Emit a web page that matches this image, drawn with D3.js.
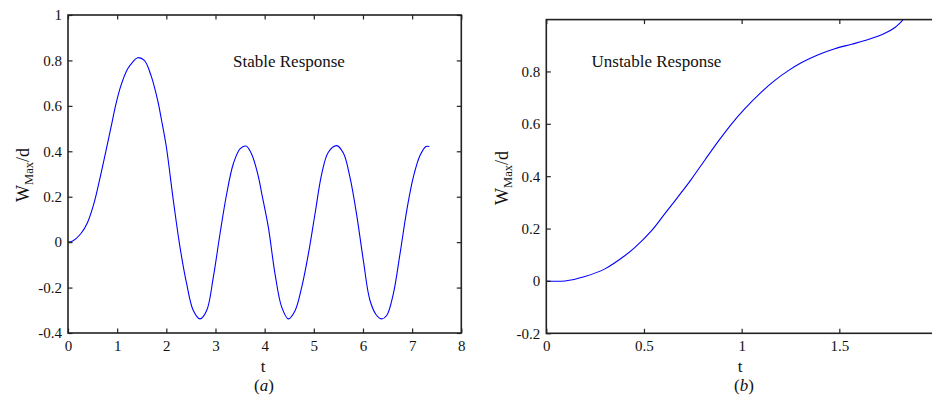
<!DOCTYPE html>
<html><head><meta charset="utf-8">
<script src="https://cdn.jsdelivr.net/npm/d3@7"></script>
<style>
html,body{margin:0;padding:0;background:#fff;}
svg{display:block;}
text{font-family:"Liberation Serif","Times New Roman",serif;fill:#111;}
</style></head>
<body>
<svg id="chart" width="932" height="396"></svg>
<script>
// ---- Data ----
const stableT = [0,0.095,0.26,0.40,0.535,0.67,0.773,0.875,0.976,1.078,1.214,1.316,1.418,1.553,1.688,1.824,1.90,2.0,2.143,2.278,2.414,2.549,2.685,2.821,2.956,3.092,3.228,3.363,3.499,3.621,3.736,3.871,3.94,4.075,4.211,4.347,4.482,4.618,4.754,4.889,5.024,5.161,5.296,5.465,5.601,5.736,5.872,6.008,6.143,6.279,6.381,6.483,6.617,6.753,6.89,7.024,7.160,7.282,7.35];
const stableW = [0,0.005,0.037,0.088,0.176,0.301,0.403,0.506,0.609,0.690,0.763,0.793,0.812,0.80,0.734,0.624,0.54,0.42,0.183,-0.022,-0.184,-0.301,-0.338,-0.301,-0.154,0.037,0.213,0.345,0.411,0.423,0.387,0.29,0.215,0.066,-0.140,-0.286,-0.338,-0.302,-0.198,-0.052,0.124,0.301,0.396,0.425,0.392,0.285,0.12,-0.081,-0.257,-0.323,-0.338,-0.323,-0.228,-0.052,0.139,0.286,0.381,0.421,0.421];
const unstableT = [0,0.096,0.198,0.30,0.403,0.454,0.539,0.607,0.676,0.744,0.812,0.88,0.949,1.013,1.102,1.170,1.239,1.307,1.392,1.477,1.563,1.648,1.733,1.785,1.827];
const unstableW = [0,0,0.017,0.046,0.097,0.128,0.192,0.257,0.323,0.390,0.462,0.533,0.600,0.655,0.722,0.766,0.803,0.834,0.864,0.887,0.904,0.922,0.946,0.968,0.998];
const ticksAX = [0,1,2,3,4,5,6,7,8];
const ticksAY = [-0.4,-0.2,0,0.2,0.4,0.6,0.8,1];
const ticksBX = [0,0.5,1,1.5];
const ticksBY = [-0.2,0,0.2,0.4,0.6,0.8];

const svg = d3.select("#chart");
const defs = svg.append("defs");

function panel(cfg){
  const g = svg.append("g");
  const x = d3.scaleLinear().domain(cfg.xd).range([cfg.l, cfg.r]);
  const y = d3.scaleLinear().domain(cfg.yd).range([cfg.b, cfg.t]);
  const clipId = "clip"+cfg.id;
  defs.append("clipPath").attr("id",clipId).append("rect")
    .attr("x",cfg.l).attr("y",cfg.t).attr("width",cfg.r-cfg.l).attr("height",cfg.b-cfg.t);
  const pts = cfg.xs.map((v,i)=>[v,cfg.ys[i]]);
  g.append("path").datum(pts)
    .attr("clip-path","url(#"+clipId+")")
    .attr("fill","none").attr("stroke","#0000ff").attr("stroke-width",1.1)
    .attr("d", d3.line().x(d=>x(d[0])).y(d=>y(d[1])).curve(d3.curveCatmullRom.alpha(0.5)));
  const tl = 4.5;
  const fmt = d => String(Math.round(d*10)/10);
  const bottom = d3.axisBottom(x).tickValues(cfg.xt).tickSize(-tl).tickPadding(7).tickFormat(fmt);
  const top = d3.axisTop(x).tickValues(cfg.xt).tickSize(-tl).tickFormat("");
  const left = d3.axisLeft(y).tickValues(cfg.yt).tickSize(-tl).tickPadding(6).tickFormat(fmt);
  const right = d3.axisRight(y).tickValues(cfg.yt).tickSize(-tl).tickFormat("");
  const style = s => { s.select(".domain").remove(); s.selectAll("line").attr("stroke","#222").attr("stroke-width",1.2);
    s.selectAll("text").attr("font-family","Liberation Serif").attr("font-size",15).attr("fill","#111"); };
  g.append("g").attr("transform",`translate(0,${cfg.b})`).call(bottom).call(style);
  g.append("g").attr("transform",`translate(0,${cfg.t})`).call(top).call(style);
  g.append("g").attr("transform",`translate(${cfg.l},0)`).call(left).call(style);
  g.append("g").attr("transform",`translate(${cfg.r},0)`).call(right).call(style);
  g.append("rect").attr("x",cfg.l).attr("y",cfg.t).attr("width",cfg.r-cfg.l).attr("height",cfg.b-cfg.t)
    .attr("fill","none").attr("stroke","#222").attr("stroke-width",1.6);
  g.append("text").attr("x",cfg.ann[0]).attr("y",cfg.ann[1]).attr("font-size",17).text(cfg.annText);
  g.append("text").attr("x",cfg.xl[0]).attr("y",cfg.xl[1]).attr("text-anchor","middle").attr("font-size",17).text("t");
  const pl = g.append("text").attr("x",cfg.pl[0]).attr("y",cfg.pl[1]).attr("text-anchor","middle").attr("font-size",17);
  pl.append("tspan").text("(");
  pl.append("tspan").attr("font-style","italic").text(cfg.plText);
  pl.append("tspan").text(")");
  const yl = g.append("text").attr("transform",`translate(${cfg.yl[0]},${cfg.yl[1]}) rotate(-90)`)
    .attr("text-anchor","middle").attr("font-size",18);
  yl.append("tspan").text("W");
  yl.append("tspan").attr("font-size",12.5).attr("dy",4).text("Max");
  yl.append("tspan").attr("dy",-4).text("/d");
}

panel({id:"a", l:68, r:461.3, t:15, b:333, xd:[0,8], yd:[-0.4,1], xt:ticksAX, yt:ticksAY,
  xs:stableT, ys:stableW, ann:[233,67], annText:"Stable Response", xl:[263,372], pl:[264,391], plText:"a", yl:[29,175]});
panel({id:"b", l:546.3, r:937, t:19.6, b:333.3, xd:[0,2], yd:[-0.2,0.998], xt:ticksBX, yt:ticksBY,
  xs:unstableT, ys:unstableW, ann:[591.5,67], annText:"Unstable Response", xl:[740,372], pl:[744,391], plText:"b", yl:[508,178]});
</script>
</body></html>
